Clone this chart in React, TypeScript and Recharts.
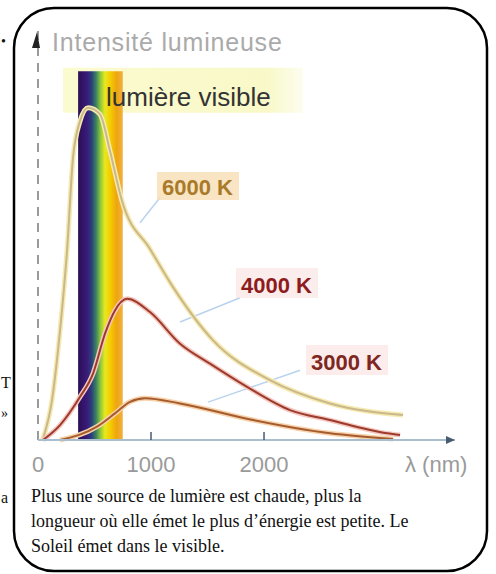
import React from 'react';
import { ComposedChart, Line, XAxis, YAxis, ReferenceArea, ReferenceLine } from 'recharts';

// Wavelength (nm) and relative intensity
const nm6000 = [40, 124, 195, 257, 310, 372, 443, 549, 637, 743, 991, 1195, 1549, 2053, 2584, 3230];
const i6000 = [0, 12, 33, 57, 85, 96, 100, 98, 87, 72, 57.5, 46, 30, 18, 11, 7.5];

const nm4000 = [44, 195, 372, 487, 593, 681, 788, 991, 1257, 1522, 1850, 2230, 2584, 3089, 3204];
const i4000 = [0, 4.5, 13, 20, 32, 39, 42.5, 38.5, 29, 23, 16, 9, 6, 2, 1.5];

const nm3000 = [195, 522, 681, 814, 947, 1257, 1903, 2584, 3142];
const i3000 = [0, 4, 8, 11.5, 12.6, 11, 6, 2, 0.3];

const xTicks = [0, 1000, 2000];
const visibleRange = [355, 750];
const visibleTop = 111;
const visibleLabelBox = { x: [221, 2345], y: [98.5, 112] };

// leader lines from labels to curves: [x1, y1, x2, y2]
const leader6000 = [1080, 73, 903, 65.4];
const leader4000 = [1788, 42.8, 1257, 35.5];
const leader3000 = [2319, 21, 1505, 11.4];

const zip = (xs: number[], ys: number[]) => xs.map((x, i) => ({ nm: x, v: ys[i] }));
const data6000 = zip(nm6000, i6000);
const data4000 = zip(nm4000, i4000);
const data3000 = zip(nm3000, i3000);

const sans = 'Liberation Sans, Arial, sans-serif';
const serif = 'Liberation Serif, Times New Roman, serif';

const Tick = (props: any) => {
  const { x, y, payload } = props;
  return (
    <g>
      {payload.value > 0 && (
        <line x1={x} x2={x} y1={y - 8} y2={y} stroke="#4a5a70" strokeWidth={1.5} />
      )}
      <text x={x} y={y + 32} textAnchor="middle" fontFamily={sans} fontSize={22} fill="#9a9a9a">
        {payload.value}
      </text>
    </g>
  );
};

const seg = (s: number[]) => [
  { x: s[0], y: s[1] },
  { x: s[2], y: s[3] },
];

export default function App() {
  return (
    <div style={{ position: 'absolute', left: 0, top: 0, width: 496, height: 574, background: '#fff', overflow: 'hidden' }}>
      <ComposedChart
        width={496}
        height={574}
        margin={{ top: 28, right: 41, bottom: 104, left: 38 }}
      >
        <defs>
          <linearGradient id="vis" x1="0" y1="0" x2="1" y2="0">
            <stop offset="0" stopColor="#2a0f55" />
            <stop offset="0.2" stopColor="#3a1a7a" />
            <stop offset="0.3" stopColor="#2b3f7a" />
            <stop offset="0.4" stopColor="#3a8060" />
            <stop offset="0.5" stopColor="#8cc63a" />
            <stop offset="0.6" stopColor="#e8e820" />
            <stop offset="0.72" stopColor="#f5cc00" />
            <stop offset="0.86" stopColor="#eea510" />
            <stop offset="1" stopColor="#f0b040" />
          </linearGradient>
          <linearGradient id="lblbg" x1="0" y1="0" x2="1" y2="0">
            <stop offset="0" stopColor="#fbfbd0" />
            <stop offset="0.85" stopColor="#f8f8c8" />
            <stop offset="1" stopColor="#fdfdf0" />
          </linearGradient>
        </defs>
        <XAxis
          type="number"
          dataKey="nm"
          domain={[0, 3690]}
          ticks={xTicks}
          tick={<Tick />}
          tickLine={false}
          tickSize={0}
          tickMargin={0}
          axisLine={{ stroke: '#a9bfd0', strokeWidth: 2 }}
          allowDuplicatedCategory={false}
        />
        <YAxis type="number" domain={[0, 124]} hide />
        <ReferenceArea
          x1={visibleLabelBox.x[0]}
          x2={visibleLabelBox.x[1]}
          y1={visibleLabelBox.y[0]}
          y2={visibleLabelBox.y[1]}
          fill="url(#lblbg)"
          fillOpacity={1}
          stroke="none"
        />
        <ReferenceArea
          x1={visibleRange[0]}
          x2={visibleRange[1]}
          y1={0}
          y2={visibleTop}
          fill="url(#vis)"
          fillOpacity={1}
          stroke="none"
        />
        <ReferenceLine x={0} stroke="#9a9a9a" strokeWidth={2} strokeDasharray="9 7" />
        <ReferenceLine segment={seg(leader6000)} stroke="#b9d3ee" strokeWidth={1.5} />
        <ReferenceLine segment={seg(leader4000)} stroke="#b9d3ee" strokeWidth={1.5} />
        <ReferenceLine segment={seg(leader3000)} stroke="#b9d3ee" strokeWidth={1.5} />

        <Line data={data6000} dataKey="v" type="monotone" stroke="#f6eab0" strokeWidth={5} dot={false} isAnimationActive={false} />
        <Line data={data6000} dataKey="v" type="monotone" stroke="#c9b88c" strokeWidth={2} dot={false} isAnimationActive={false} />
        <Line data={data4000} dataKey="v" type="monotone" stroke="#f4c8c0" strokeWidth={5} dot={false} isAnimationActive={false} />
        <Line data={data4000} dataKey="v" type="monotone" stroke="#9c3b2c" strokeWidth={2} dot={false} isAnimationActive={false} />
        <Line data={data3000} dataKey="v" type="monotone" stroke="#f6d2a8" strokeWidth={5} dot={false} isAnimationActive={false} />
        <Line data={data3000} dataKey="v" type="monotone" stroke="#a65a30" strokeWidth={2} dot={false} isAnimationActive={false} />
      </ComposedChart>

      <svg width={496} height={574} style={{ position: 'absolute', left: 0, top: 0, pointerEvents: 'none' }}>
        <rect x={14} y={8} width={473} height={563} rx={40} ry={40} fill="none" stroke="#000" strokeWidth={2.5} />
        {/* y-axis arrow head */}
        <path d="M32,48 L37,32 L40,48 Z" fill="#222" />
        {/* x-axis arrow head */}
        <path d="M446,436 L455,440 L446,444 Z" fill="#4a5a70" />
        <text x={52} y={51} fontFamily={sans} fontSize={25} letterSpacing={0.8} fill="#aaaaaa">Intensité lumineuse</text>
        <text x={106} y={106} fontFamily={sans} fontSize={26} fill="#333">lumière visible</text>
        <rect x={157} y={172} width={82} height={28} fill="#f7dfb4" opacity={0.8} />
        <text x={162} y={195} fontFamily={sans} fontWeight="bold" fontSize={22} fill="#a87a2a">6000 K</text>
        <rect x={236} y={268} width={82} height={30} fill="#fbe6e6" opacity={0.7} />
        <text x={241} y={293} fontFamily={sans} fontWeight="bold" fontSize={22} fill="#8e1c1c">4000 K</text>
        <rect x={306} y={345} width={82} height={30} fill="#fbe4e4" opacity={0.7} />
        <text x={311} y={370} fontFamily={sans} fontWeight="bold" fontSize={22} fill="#7e2620">3000 K</text>
        <text x={405} y={472} fontFamily={sans} fontSize={22} fill="#9a9a9a">λ (nm)</text>

        <text x={31} y={502} fontFamily={serif} fontSize={18} fill="#111">Plus une source de lumière est chaude, plus la</text>
        <text x={31} y={527} fontFamily={serif} fontSize={18} fill="#111">longueur où elle émet le plus d’énergie est petite. Le</text>
        <text x={31} y={552} fontFamily={serif} fontSize={18} fill="#111">Soleil émet dans le visible.</text>

        <text x={1} y={46} fontFamily={serif} fontSize={14} fill="#111">•</text>
        <text x={1} y={388} fontFamily={serif} fontSize={16} fill="#111">T</text>
        <text x={1} y={418} fontFamily={serif} fontSize={14} fill="#111">»</text>
        <text x={1} y={503} fontFamily={serif} fontSize={16} fill="#111">a</text>
      </svg>
    </div>
  );
}
